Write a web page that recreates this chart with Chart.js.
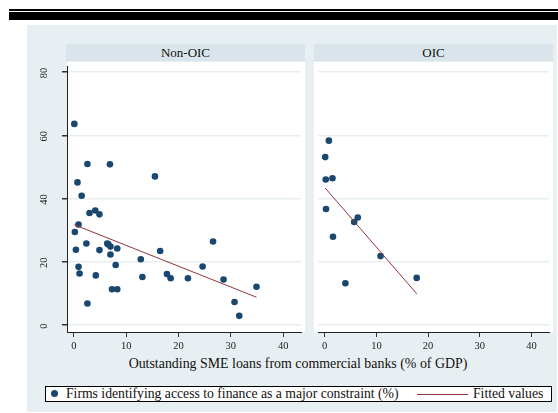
<!DOCTYPE html>
<html>
<head>
<meta charset="utf-8">
<script src="https://cdn.jsdelivr.net/npm/chart.js@4.4.1/dist/chart.umd.min.js"></script>
<style>
  body { margin: 0; width: 558px; height: 413px; position: relative; background: #fff;
         font-family: "Liberation Serif", "Times New Roman", serif; color: #111; overflow: hidden; }
  .abs { position: absolute; }
  #rule1 { left: 9px; top: 9px; width: 549px; height: 2px; background: #000; }
  #rule2 { left: 9px; top: 12px; width: 549px; height: 8px; background: #000; }
  #bg { left: 27px; top: 25px; width: 530px; height: 387px; background: #e8eff2; }
  .strip { top: 44px; height: 17px; background: #d9e5eb; font-size: 13px; line-height: 17px; text-align: center; }
  #strip1 { left: 66px; width: 239px; }
  #strip2 { left: 314px; width: 239px; }
  .panel { background: #fff; }
  #p1 { left: 67px; top: 62px; width: 238px; height: 270px; }
  #p2 { left: 314px; top: 62px; width: 239px; height: 270px; }
  #c1wrap { left: 27px; top: 62px; width: 278px; height: 290px; }
  #c2wrap { left: 314px; top: 62px; width: 239px; height: 290px; }
  #xtitle { left: 78px; width: 440px; top: 356px; text-align: center; font-size: 13.9px; line-height: 16px; }
  #legend { left: 45px; top: 386px; width: 505px; height: 14px; border: 1px solid #000; background: #fff;
            font-size: 13.7px; line-height: 14px; }
  #legend .dot { position: absolute; left: 5px; top: 3px; width: 7px; height: 7px; border-radius: 50%; background: #1a476f; }
  #legend .t1 { position: absolute; left: 20px; top: 0; white-space: nowrap; }
  #legend .ln { position: absolute; left: 371px; top: 7px; width: 51px; height: 1px; background: #90353b; }
  #legend .t2 { position: absolute; left: 427px; top: 0; white-space: nowrap; }
</style>
</head>
<body>
<div class="abs" id="rule1"></div>
<div class="abs" id="rule2"></div>
<div class="abs" id="bg"></div>
<div class="abs strip" id="strip1">Non-OIC</div>
<div class="abs strip" id="strip2">OIC</div>
<div class="abs panel" id="p1"></div>
<div class="abs panel" id="p2"></div>
<div class="abs" id="c1wrap"><canvas id="chart1"></canvas></div>
<div class="abs" id="c2wrap"><canvas id="chart2"></canvas></div>
<div class="abs" id="xtitle">Outstanding SME loans from commercial banks (% of GDP)</div>
<div class="abs" id="legend">
  <span class="dot"></span>
  <span class="t1">Firms identifying access to finance as a major constraint (%)</span>
  <span class="ln"></span>
  <span class="t2">Fitted values</span>
</div>
<script>
"use strict";

// 1: data
const xTicks = [0, 10, 20, 30, 40];
const yTicks = [0, 20, 40, 60, 80];

// Non-OIC countries
const nonOicLoans = [0.1, 2.6, 6.9, 0.7, 15.5, 1.5, 4.1, 3.0, 4.9, 0.9, 0.2, 2.4, 6.4, 6.6, 7.0, 7.0,
  8.3, 0.4, 4.9, 16.5, 26.6, 0.9, 1.1, 8.0, 12.8, 13.1, 4.2, 17.8, 18.5, 21.8, 24.6, 28.6, 7.3, 8.3,
  34.9, 2.6, 30.7, 31.6];
const nonOicFirms = [63.6, 50.9, 50.8, 45.1, 47.0, 40.9, 36.2, 35.4, 35.0, 31.8, 29.4, 25.8, 25.8, 25.5,
  24.8, 22.3, 24.2, 23.8, 23.7, 23.4, 26.4, 18.4, 16.3, 19.0, 20.8, 15.2, 15.7, 16.1, 14.8, 14.8, 18.5,
  14.4, 11.3, 11.3, 12.1, 6.8, 7.3, 2.9];
const nonOicFitX = [0.1, 34.9];
const nonOicFitY = [31.7, 8.8];

// OIC countries
const oicLoans = [0.8, 0.1, 0.2, 1.5, 0.25, 5.7, 6.4, 1.6, 10.8, 4.0, 17.8];
const oicFirms = [58.3, 53.1, 46.0, 46.4, 36.7, 32.6, 34.0, 27.9, 21.8, 13.2, 14.9];
const oicFitX = [0.1, 17.8];
const oicFitY = [43.3, 9.9];

const xMin = -1.3, xMax = 43.4;
const yMin = -2.2, yMax = 81.9;

// 2: rotated y labels, drawn at the scale's own pixel positions
const yLabelPlugin = {
  id: 'yLabels',
  afterDraw(chart, args, opts) {
    if (!opts.show) return;
    const ctx = chart.ctx;
    const y = chart.scales.y;
    ctx.save();
    ctx.font = '10.5px "Liberation Serif"';
    ctx.fillStyle = '#222';
    ctx.textAlign = 'center';
    ctx.textBaseline = 'middle';
    for (const v of yTicks) {
      ctx.save();
      ctx.translate(17.5, y.getPixelForValue(v) + 1);
      ctx.rotate(-Math.PI / 2);
      ctx.fillText(String(v), 0, 0);
      ctx.restore();
    }
    ctx.restore();
  }
};

function points(xs, ys) {
  return xs.map((x, i) => ({ x: x, y: ys[i] }));
}

// 3: create a panel
function appendPanel(id, loans, firms, fitX, fitY, showY) {
  return new Chart(document.getElementById(id), {
    type: 'scatter',
    data: {
      datasets: [{
        data: points(loans, firms),
        backgroundColor: '#1a476f',
        borderWidth: 0,
        pointRadius: 3.3,
        order: 2
      },
      {
        type: 'line',
        data: points(fitX, fitY),
        borderColor: '#90353b',
        borderWidth: 1,
        pointRadius: 0,
        fill: false,
        order: 1
      }]
    },
    options: {
      responsive: true,
      maintainAspectRatio: false,
      animation: false,
      layout: { padding: 0 },
      plugins: {
        legend: { display: false },
        tooltip: { enabled: false },
        yLabels: { show: showY }
      },
      scales: {
        x: {
          type: 'linear',
          min: xMin,
          max: xMax,
          afterBuildTicks: s => { s.ticks = xTicks.map(v => ({ value: v })); },
          afterFit: s => { s.height = 20; },
          grid: { drawOnChartArea: false, tickLength: 5, tickColor: '#333', lineWidth: 1 },
          border: { color: '#222', width: 1 },
          ticks: { font: { family: 'Liberation Serif', size: 10.5 }, color: '#222', padding: 3, maxRotation: 0 }
        },
        y: {
          type: 'linear',
          min: yMin,
          max: yMax,
          afterBuildTicks: s => { s.ticks = yTicks.map(v => ({ value: v })); },
          afterFit: s => { s.width = showY ? 40 : 0; },
          grid: { color: '#e6eef0', lineWidth: 1.5, drawTicks: showY, tickLength: 5, tickColor: '#333' },
          border: { display: showY, color: '#222', width: 1 },
          ticks: { display: false }
        }
      }
    },
    plugins: [yLabelPlugin]
  });
}

appendPanel('chart1', nonOicLoans, nonOicFirms, nonOicFitX, nonOicFitY, true);
appendPanel('chart2', oicLoans, oicFirms, oicFitX, oicFitY, false);
</script>
</body>
</html>
